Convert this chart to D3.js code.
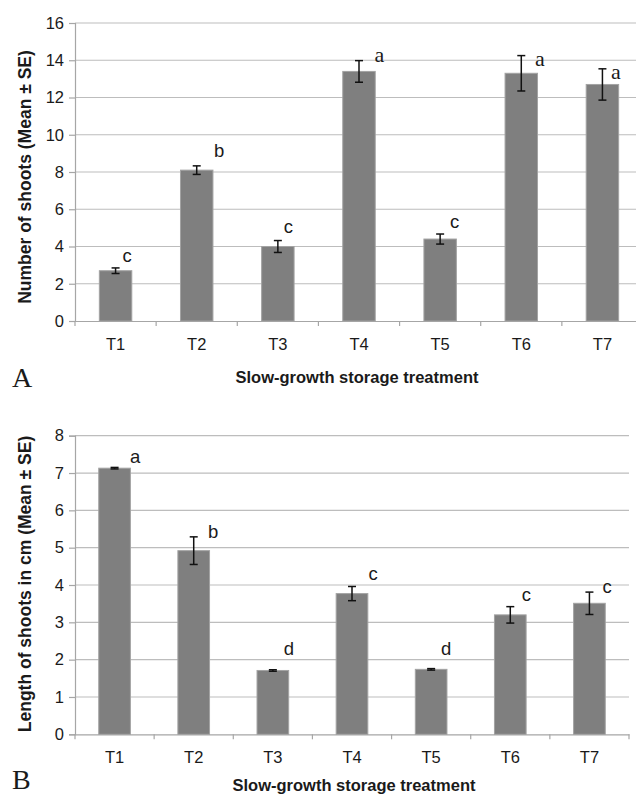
<!DOCTYPE html>
<html>
<head>
<meta charset="utf-8">
<script src="https://cdn.jsdelivr.net/npm/d3@7"></script>
<style>
  html, body { margin: 0; padding: 0; background: #fff; }
  svg { display: block; }
</style>
</head>
<body>
<svg id="chart" width="636" height="797"></svg>
<script>
// ---------- DATA ----------
const categories = ["T1", "T2", "T3", "T4", "T5", "T6", "T7"];

// Panel A: number of shoots
const shootsMean = [2.7, 8.1, 4.0, 13.4, 4.4, 13.3, 12.7];
const shootsSE   = [0.15, 0.23, 0.32, 0.58, 0.27, 0.95, 0.84];
const shootsLetters = ["c", "b", "c", "a", "c", "a", "a"];
const shootsTicks = [0, 2, 4, 6, 8, 10, 12, 14, 16];

// Panel B: length of shoots
const lengthMean = [7.13, 4.92, 1.71, 3.77, 1.74, 3.2, 3.51];
const lengthSE   = [0.02, 0.37, 0.02, 0.19, 0.02, 0.22, 0.30];
const lengthLetters = ["a", "b", "d", "c", "d", "c", "c"];
const lengthTicks = [0, 1, 2, 3, 4, 5, 6, 7, 8];

// ---------- LAYOUT (annotation offsets, not data) ----------
const shootsLabelDx = [11.5, 22.5, 10.5, 20.5, 14.5, 18.5, 13.5];
const shootsLabelDy = [-6, -9, -8, 1, -6, 10, 10];
const lengthLabelDx = [20.5, 19.4, 16, 21, 15, 16, 17.7];
const lengthLabelDy = [-4.7, 1, -14.7, -6, -13.6, -6, 1];

const svg = d3.select("#chart");
const SANS = "'Liberation Sans', Arial, Helvetica, sans-serif";
const SERIF = "'Liberation Serif', 'Times New Roman', serif";

function panel(cfg) {
  const g = svg.append("g");
  const x = d3.scaleBand().domain(categories).range([cfg.left, cfg.right]).padding(0);
  const y = d3.scaleLinear().domain([0, cfg.ticks[cfg.ticks.length - 1]]).range([cfg.bottom, cfg.top]);
  const barW = x.bandwidth() * 0.4;

  // gridlines
  g.append("g").selectAll("line").data(cfg.ticks.filter(t => t !== 0)).join("line")
    .attr("x1", cfg.left).attr("x2", cfg.right)
    .attr("y1", d => y(d)).attr("y2", d => y(d))
    .attr("stroke", "#bdbdbd").attr("stroke-width", 1.2);

  // y axis
  const yAxis = g.append("g").attr("transform", `translate(${cfg.left},0)`)
    .call(d3.axisLeft(y).tickValues(cfg.ticks).tickSize(6).tickPadding(5).tickFormat(d3.format("d")));
  yAxis.select(".domain").attr("stroke", "#a6a6a6").attr("stroke-width", 1.2);
  yAxis.selectAll(".tick line").attr("stroke", "#a6a6a6").attr("stroke-width", 1.2);
  yAxis.selectAll(".tick text").attr("font-family", SANS).attr("font-size", 16.5).attr("fill", "#1a1a1a");

  // x axis
  const xAxis = g.append("g").attr("transform", `translate(0,${cfg.bottom})`)
    .call(d3.axisBottom(x).tickSize(0).tickPadding(17));
  xAxis.select(".domain").attr("stroke", "#a6a6a6").attr("stroke-width", 1.2);
  xAxis.selectAll(".tick text").attr("font-family", SANS).attr("font-size", 16.5).attr("fill", "#1a1a1a");
  const bounds = categories.map(c => x(c)).concat([cfg.right]);
  xAxis.append("g").selectAll("line").data(bounds).join("line")
    .attr("x1", d => d).attr("x2", d => d).attr("y1", 0).attr("y2", 5)
    .attr("stroke", "#a6a6a6").attr("stroke-width", 1.2);

  // bars
  g.append("g").selectAll("rect").data(cfg.mean).join("rect")
    .attr("x", (d, i) => x(categories[i]) + (x.bandwidth() - barW) / 2)
    .attr("width", barW)
    .attr("y", d => y(d))
    .attr("height", d => cfg.bottom - y(d))
    .attr("fill", "#7f7f7f")
    .attr("stroke", "#a3a3a3").attr("stroke-width", 1);

  // error bars
  const eb = g.append("g").attr("stroke", "#111").attr("stroke-width", 1.5);
  cfg.mean.forEach((m, i) => {
    const cx = x(categories[i]) + x.bandwidth() / 2;
    const hi = y(m + cfg.se[i]), lo = y(m - cfg.se[i]);
    eb.append("line").attr("x1", cx).attr("x2", cx).attr("y1", hi).attr("y2", lo);
    eb.append("line").attr("x1", cx - 4).attr("x2", cx + 4).attr("y1", hi).attr("y2", hi);
    eb.append("line").attr("x1", cx - 4).attr("x2", cx + 4).attr("y1", lo).attr("y2", lo);
  });

  // significance letters
  g.append("g").selectAll("text").data(cfg.letters).join("text")
    .attr("x", (d, i) => x(categories[i]) + x.bandwidth() / 2 + cfg.dx[i])
    .attr("y", (d, i) => y(cfg.mean[i] + cfg.se[i]) + cfg.dy[i])
    .attr("text-anchor", "middle")
    .attr("font-family", (d, i) => cfg.serifA && d === "a" ? SERIF : SANS)
    .attr("font-size", (d, i) => cfg.serifA && d === "a" ? 22 : 18.5)
    .attr("fill", "#1a1a1a")
    .text(d => d);

  // y axis title
  g.append("text")
    .attr("transform", `translate(${cfg.yTitleX},${(cfg.top + cfg.bottom) / 2 + cfg.yTitleShift}) rotate(-90)`)
    .attr("text-anchor", "middle")
    .attr("font-family", SANS).attr("font-weight", "bold").attr("font-size", 17.5)
    .attr("fill", "#1a1a1a")
    .text(cfg.yTitle);

  // x axis title
  g.append("text")
    .attr("x", cfg.xTitleX).attr("y", cfg.xTitleY)
    .attr("text-anchor", "middle")
    .attr("font-family", SANS).attr("font-weight", "bold").attr("font-size", 16.5)
    .attr("fill", "#1a1a1a")
    .text("Slow-growth storage treatment");

  // panel letter
  g.append("text")
    .attr("x", 12).attr("y", cfg.panelY)
    .attr("font-family", SERIF).attr("font-size", 28)
    .attr("fill", "#1a1a1a")
    .text(cfg.panel);
}

panel({
  left: 75, right: 643, top: 23, bottom: 321,
  ticks: shootsTicks, mean: shootsMean, se: shootsSE, letters: shootsLetters,
  dx: shootsLabelDx, dy: shootsLabelDy, serifA: true,
  yTitle: "Number of shoots (Mean ± SE)", yTitleX: 31, yTitleShift: 5,
  xTitleX: 357, xTitleY: 383, panel: "A", panelY: 387
});

panel({
  left: 75, right: 629, top: 435.7, bottom: 734.3,
  ticks: lengthTicks, mean: lengthMean, se: lengthSE, letters: lengthLetters,
  dx: lengthLabelDx, dy: lengthLabelDy, serifA: false,
  yTitle: "Length of shoots in cm (Mean ± SE)", yTitleX: 31, yTitleShift: -1,
  xTitleX: 354, xTitleY: 791, panel: "B", panelY: 789
});
</script>
</body>
</html>
